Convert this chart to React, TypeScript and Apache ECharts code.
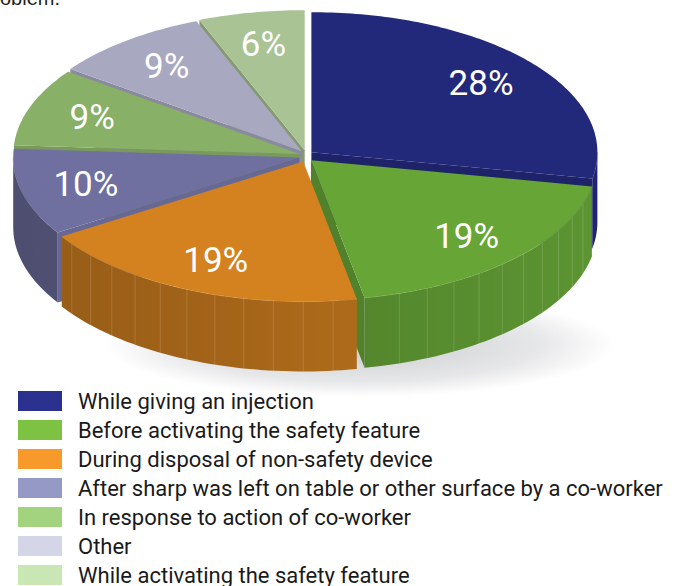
import { useEffect, useRef } from "react";
import * as echarts from "echarts";

const categories = [
  "While giving an injection",
  "Before activating the safety feature",
  "During disposal of non-safety device",
  "After sharp was left on table or other surface by a co-worker",
  "In response to action of co-worker",
  "Other",
  "While activating the safety feature",
];
const values = [28, 19, 19, 10, 9, 9, 6];
const percentLabels = ["28%", "19%", "19%", "10%", "9%", "9%", "6%"];
const legendColors = ["#2a318f", "#7dc243", "#f7992b", "#9499c5", "#a3d37e", "#d5d5e8", "#c9e6b5"];
const topColors = ["#22287a", "#67a537", "#d48220", "#6f6fa0", "#89b067", "#a8a8c1", "#aac395"];

const CX = 306, CY = 156, RX = 286, RY = 140, DEPTH = 70, EXPLODE = 7;
const FONT = "Roboto, 'Liberation Sans', Arial, sans-serif";

function shade(hex: string, f: number) {
  const n = parseInt(hex.slice(1), 16);
  let r = (n >> 16) & 255, g = (n >> 8) & 255, b = n & 255;
  if (f < 0) { r *= 1 + f; g *= 1 + f; b *= 1 + f; }
  else { r += (255 - r) * f; g += (255 - g) * f; b += (255 - b) * f; }
  return `rgb(${Math.round(r)},${Math.round(g)},${Math.round(b)})`;
}

const total = values.reduce((s, v) => s + v, 0);
const spans = values.map((v, i) => {
  const before = values.slice(0, i).reduce((s, x) => s + x, 0);
  return [90 - (360 * (before + v)) / total, 90 - (360 * before) / total];
});
const rad = (d: number) => (d * Math.PI) / 180;

function makeRenderItem(i: number) {
  return (_params: any, _api: any) => {
    const [a, b] = spans[i];
    const mid = (a + b) / 2;
    const ox = EXPLODE * Math.cos(rad(mid));
    const oy = -EXPLODE * Math.sin(rad(mid)) * 0.85;
    const P = (th: number, f: number, z: number) => [
      CX + ox + f * RX * Math.cos(rad(th)),
      CY + oy - f * RY * Math.sin(rad(th)) + z * DEPTH,
    ];
    const top = topColors[i];
    const children: any[] = [];
    // outer wall (front-facing part)
    for (let k = -1; k <= 1; k++) {
      const lo = Math.max(a, -180 + 360 * k);
      const hi = Math.min(b, 360 * k);
      if (hi - lo < 0.01) continue;
      const n = Math.max(2, Math.ceil((hi - lo) / 1.5));
      const upper: number[][] = [], lower: number[][] = [], ths: number[] = [];
      for (let j = 0; j <= n; j++) {
        const th = lo + ((hi - lo) * j) / n;
        ths.push(th);
        upper.push(P(th, 1, 0));
        lower.push(P(th, 1, 1));
      }
      const pts = upper.concat(lower.slice().reverse());
      const xs = pts.map((p) => p[0]);
      const xmin = Math.min(...xs), xmax = Math.max(...xs);
      const ymax = Math.max(...pts.map((p) => p[1]));
      const stops = ths.map((th, j) => ({
        offset: Math.min(1, Math.max(0, (upper[j][0] - xmin) / Math.max(1, xmax - xmin))),
        color: shade(top, -(0.2 - 0.1 * Math.cos(rad(th)))),
      }));
      children.push({
        type: "polygon",
        shape: { points: pts },
        style: { fill: new echarts.graphic.LinearGradient(0, 0, 1, 0, stops) },
        z2: ymax,
      });
      if (hi - lo > 40) {
        for (let th = Math.ceil(lo / 6) * 6; th < hi; th += 6) {
          if (th - lo < 1.5 || hi - th < 1.5) continue;
          const p1 = P(th, 1, 0), p2 = P(th, 1, 1);
          children.push({
            type: "line",
            shape: { x1: p1[0], y1: p1[1], x2: p2[0], y2: p2[1] },
            style: { stroke: "rgba(255,255,255,0.14)", lineWidth: 1 },
            z2: ymax + 0.1,
          });
        }
      }
      children.push({
        type: "polyline",
        shape: { points: upper },
        style: { stroke: shade(top, 0.3), lineWidth: 1, opacity: 0.5, fill: null },
        z2: ymax + 0.2,
      });
    }
    // radial walls
    const wall = (th: number, normal: number) => {
      const c0 = P(th, 0, 0), r0 = P(th, 1, 0), r1 = P(th, 1, 1), c1 = P(th, 0, 1);
      children.push({
        type: "polygon",
        shape: { points: [c0, r0, r1, c1] },
        style: { fill: shade(top, 0.1 * Math.cos(rad(normal)) - 0.12) },
        z2: Math.max(r1[1], c1[1]),
      });
    };
    if (Math.cos(rad(a)) > 0) wall(a, a - 90);
    if (Math.cos(rad(b)) < 0) wall(b, b + 90);
    // top face
    const tp: number[][] = [P(a, 0, 0)];
    const m = Math.max(2, Math.ceil(b - a));
    for (let j = 0; j <= m; j++) tp.push(P(a + ((b - a) * j) / m, 1, 0));
    children.push({ type: "polygon", shape: { points: tp }, style: { fill: top }, z2: 1000 });
    // label
    const lp = P(mid, 0.77, 0);
    children.push({
      type: "text",
      x: lp[0],
      y: lp[1],
      style: {
        text: percentLabels[i],
        fill: "#ffffff",
        font: `35px ${FONT}`,
        align: "center",
        verticalAlign: "middle",
      },
      z2: 2000,
    });
    return { type: "group", children };
  };
}

export default function App() {
  const ref = useRef<HTMLDivElement>(null);
  useEffect(() => {
    if (!ref.current) return;
    const chart = echarts.init(ref.current, undefined, { renderer: "svg" });
    chart.setOption({
      animation: false,
      backgroundColor: "#ffffff",
      graphic: [
        {
          type: "ellipse",
          shape: { cx: 360, cy: 345, rx: 255, ry: 52 },
          style: {
            fill: new echarts.graphic.RadialGradient(0.5, 0.5, 0.5, [
              { offset: 0, color: "rgba(90,95,105,0.32)" },
              { offset: 0.7, color: "rgba(90,95,105,0.15)" },
              { offset: 1, color: "rgba(90,95,105,0)" },
            ]),
          },
          silent: true,
        },
        {
          type: "text",
          x: 0,
          y: 8,
          style: {
            text: "oblem.",
            font: "20px 'Liberation Sans', Arial, sans-serif",
            fill: "#231f20",
            verticalAlign: "bottom",
          },
          silent: true,
        },
      ],
      legend: {
        orient: "vertical",
        left: 18,
        top: 390,
        height: 260,
        padding: 0,
        itemWidth: 44,
        itemHeight: 20,
        itemGap: 7,
        icon: "rect",
        selectedMode: false,
        data: categories.map((c, i) => ({ name: c, itemStyle: { color: legendColors[i] } })),
        textStyle: {
          fontFamily: FONT,
          fontSize: 22,
          color: "#1a1a1a",
          padding: [0, 0, 0, 11],
        },
      },
      series: values.map((v, i) => ({
        type: "custom",
        name: categories[i],
        coordinateSystem: "none",
        renderItem: makeRenderItem(i),
        data: [v],
        itemStyle: { color: legendColors[i] },
        silent: true,
      })),
    });
    return () => chart.dispose();
  }, []);
  return (
    <div
      ref={ref}
      style={{ position: "absolute", left: 0, top: 0, width: 676, height: 586 }}
    />
  );
}
